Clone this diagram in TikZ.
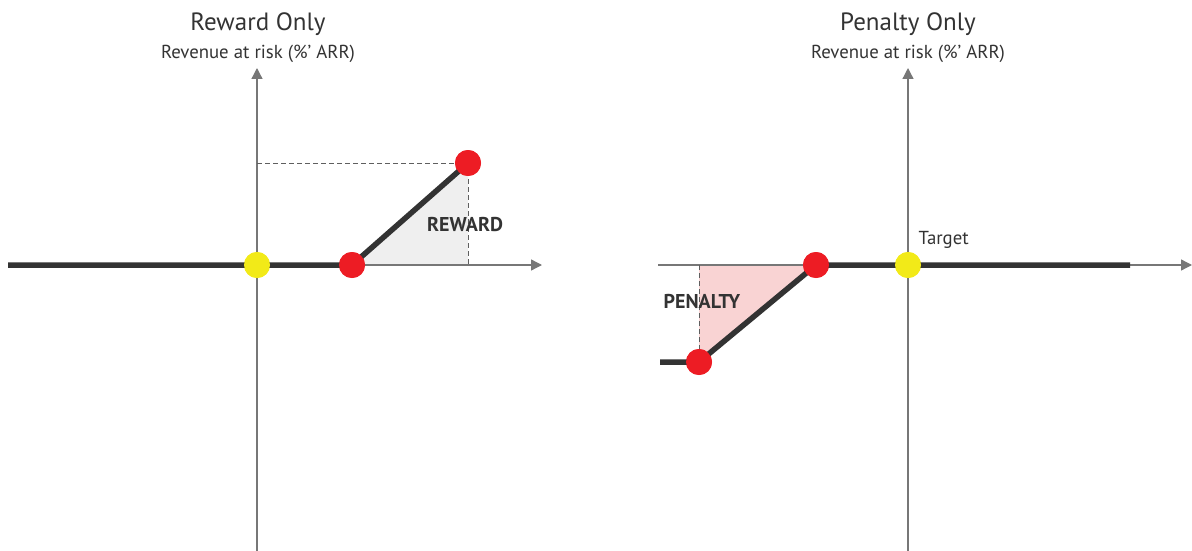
\documentclass[tikz,border=0pt]{standalone}
\usepackage{fontspec}
\setmainfont{PT Sans}
\usetikzlibrary{arrows.meta}
\definecolor{thick}{HTML}{333333}
\definecolor{axisgray}{HTML}{777777}
\definecolor{dotred}{HTML}{ED1C24}
\definecolor{dotyellow}{HTML}{F2EA18}
\definecolor{rewardfill}{HTML}{EFEFEF}
\definecolor{penaltyfill}{HTML}{F9D3D3}
\tikzset{
  axisline/.style={draw=axisgray, line width=1.3pt, -{Triangle[length=11pt,width=11pt]}},
  guide/.style={draw=axisgray!80!black, line width=0.9pt, dash pattern=on 4.5pt off 3.5pt},
  curve/.style={draw=thick, line width=5.5pt},
  rdot/.style={circle, fill=dotred, minimum size=26pt, inner sep=0pt},
  ydot/.style={circle, fill=dotyellow, minimum size=26pt, inner sep=0pt},
  titletext/.style={font=\fontsize{25}{29}\selectfont, text=thick},
  subtext/.style={font=\fontsize{18.8}{22}\selectfont, text=thick},
  boldlabel/.style={font=\fontsize{20}{24}\selectfont\bfseries, text=thick},
}
\begin{document}
\begin{tikzpicture}[x=1pt,y=-1pt]
\useasboundingbox (0,0) rectangle (1192,551);
% ---------- Left panel: Reward Only ----------
\coordinate (Lvb) at (257,551);
\coordinate (Lvt) at (257,68);
\coordinate (Lhl) at (8,265);
\coordinate (Lhr) at (542,265);
\coordinate (Lfoot) at (468,265);
\coordinate (Lyax) at (257,163);
\fill[rewardfill] (352,265) -- (468,163) -- (468,265) -- cycle;
\draw[axisline] (Lvb) -- (Lvt);
\draw[axisline] (Lhl) -- (Lhr);
\node[ydot] (Ly) at (257,265) {};
\node[rdot] (Lr1) at (352,265) {};
\node[rdot] (Lr2) at (468,163) {};
\draw[guide] (Lyax) -- (Lr2.center);
\draw[guide] (Lr2.center) -- (Lfoot);
\draw[curve] (Lhl) -- (Lr1.center) -- (Lr2.center);
\node[ydot] at (Ly) {};
\node[rdot] at (Lr1) {};
\node[rdot] at (Lr2) {};
\node[boldlabel] (Lrew) at (465,225) {REWARD};
\node[titletext] (Lt) at (258,24) {Reward Only};
\node[subtext] (Ls) at (258,54) {Revenue at risk (\%’ ARR)};
% ---------- Right panel: Penalty Only ----------
\coordinate (Rvb) at (908,551);
\coordinate (Rvt) at (908,68);
\coordinate (Rhl) at (658,265);
\coordinate (Rhr) at (1192,265);
\coordinate (Rtop) at (699,265);
\coordinate (Rend) at (1130,265);
\coordinate (Rstart) at (660,362);
\fill[penaltyfill] (699,265) -- (816,265) -- (699,362) -- cycle;
\draw[axisline] (Rvb) -- (Rvt);
\draw[axisline] (Rhl) -- (Rhr);
\node[rdot] (Rr1) at (699,362) {};
\node[rdot] (Rr2) at (816,265) {};
\node[ydot] (Ry) at (908,265) {};
\draw[guide] (Rtop) -- (Rr1.center);
\draw[curve] (Rstart) -- (Rr1.center) -- (Rr2.center) -- (Rend);
\node[rdot] at (Rr1) {};
\node[rdot] at (Rr2) {};
\node[ydot] at (Ry) {};
\node[boldlabel] (Rpen) at (702,301) {PENALTY};
\node[subtext, anchor=west] (Rtarget) at (915,240) {Target};
\node[titletext] (Rt) at (908,24) {Penalty Only};
\node[subtext] (Rs) at (908,54) {Revenue at risk (\%’ ARR)};
\end{tikzpicture}
\end{document}
